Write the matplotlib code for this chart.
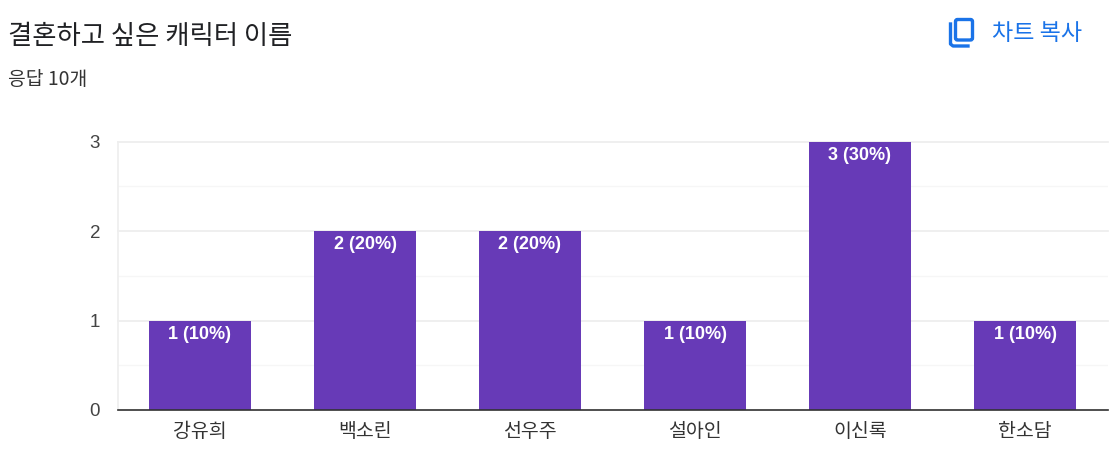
import matplotlib
matplotlib.use("Agg")
import matplotlib.pyplot as plt
from matplotlib.patches import FancyBboxPatch

plt.rcParams["font.family"] = ["Noto Sans CJK KR", "DejaVu Sans"]

names = ["강유희", "백소린", "선우주", "설아인", "이신록", "한소담"]
votes = [1, 2, 2, 1, 3, 1]
labels = ["1 (10%)", "2 (20%)", "2 (20%)", "1 (10%)", "3 (30%)", "1 (10%)"]
major_ticks = [0, 1, 2, 3]
minor_ticks = [0.5, 1.5, 2.5]

W, H = 1112, 474
fig = plt.figure(figsize=(W / 100, H / 100), dpi=100)

# plot area in pixels: x 117-1107, y 142-410
ax = fig.add_axes([117.5 / W, 1 - 410 / H, 990 / W, 268.5 / H])
ax.bar(range(len(names)), votes, width=0.618, color="#673ab7", zorder=3)
ax.set_xlim(-0.5, 5.5)
ax.set_ylim(0, 3)

ax.set_yticks(major_ticks)
ax.set_yticks(minor_ticks, minor=True)
ax.set_xticks(range(len(names)))
ax.set_xticklabels(names, fontsize=14, color="#333333")
ax.set_yticklabels([str(t) for t in major_ticks], fontsize=13.5, color="#444444",
                   family=["Liberation Sans"])
ax.tick_params(axis="both", which="both", length=0)
ax.tick_params(axis="x", pad=8)
ax.tick_params(axis="y", pad=12.5)
ax.grid(axis="y", which="major", color="#eeeeee", lw=1.3, zorder=0, clip_on=False)
ax.grid(axis="y", which="minor", color="#f6f6f6", lw=1, zorder=0)
for s in ["top", "right"]:
    ax.spines[s].set_visible(False)
ax.spines["left"].set_color("#eeeeee")
ax.spines["left"].set_linewidth(1.2)
ax.spines["bottom"].set_color("#333333")
ax.spines["bottom"].set_linewidth(1.2)
ax.spines["bottom"].set_zorder(4)

for i, (v, lab) in enumerate(zip(votes, labels)):
    ax.annotate(lab, (i, v), xytext=(0, -3.8), textcoords="offset points",
                ha="center", va="top", color="white", fontsize=13,
                fontweight="bold", family=["Liberation Sans"], zorder=5)

fig.text(8 / W, 1 - 37 / H, "결혼하고 싶은 캐릭터 이름", fontsize=19, color="#202124",
         va="center", ha="left")
fig.text(8 / W, 1 - 80 / H, "응답 10개", fontsize=13.9, color="#333333",
         va="center", ha="left")
fig.text(992 / W, 1 - 33.5 / H, "차트 복사", fontsize=16.6, color="#1a73e8",
         va="center", ha="left")

# copy icon
overlay = fig.add_axes([0, 0, 1, 1], facecolor="none")
overlay.set_xlim(0, W)
overlay.set_ylim(H, 0)
overlay.axis("off")
overlay.add_patch(FancyBboxPatch((955.5, 19.5), 17, 20.5, boxstyle="round,pad=0,rounding_size=2",
                                 fill=False, ec="#1a73e8", lw=2.4))
overlay.plot([950.5, 950.5, 953, 968], [24, 44, 46, 46], color="#1a73e8", lw=2.4)

fig.savefig("out.png", dpi=100)
